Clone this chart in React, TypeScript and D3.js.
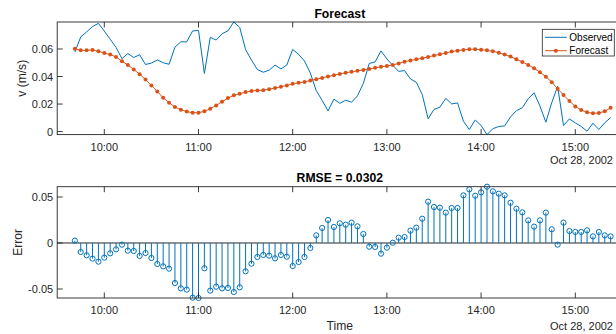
import React from "react";
import * as d3 from "d3";

// Sampling: one value every 3.75 minutes starting 09:41:15 on Oct 28, 2002
const startTime = new Date(2002, 9, 28, 9, 41, 15);
const stepMinutes = 3.75;

// Forecast current speed (m/s)
const forecast = [
  0.0602, 0.059, 0.059, 0.0593, 0.0583, 0.0571, 0.0559, 0.0542, 0.0511, 0.0484,
  0.0451, 0.0417, 0.0378, 0.0335, 0.0292, 0.0246, 0.021, 0.0178, 0.0159, 0.0145,
  0.0137, 0.0137, 0.0147, 0.0166, 0.019, 0.0217, 0.0243, 0.0263, 0.0275, 0.0287,
  0.0294, 0.0299, 0.0301, 0.0308, 0.0316, 0.0325, 0.0335, 0.0347, 0.0354, 0.0361,
  0.0371, 0.038, 0.039, 0.04, 0.041, 0.0419, 0.0427, 0.0434, 0.0441, 0.0448,
  0.0455, 0.0463, 0.047, 0.0477, 0.0484, 0.0495, 0.0508, 0.0516, 0.0525, 0.0533,
  0.0542, 0.0552, 0.0561, 0.0571, 0.0581, 0.0588, 0.0593, 0.0598, 0.0598, 0.0595,
  0.059, 0.0583, 0.0573, 0.0559, 0.0545, 0.0525, 0.0506, 0.0484, 0.046, 0.0431,
  0.0398, 0.0359, 0.0311, 0.0265, 0.0222, 0.0183, 0.0157, 0.014, 0.0133, 0.0135,
  0.0147, 0.0173,
];

// Observed current speed (m/s)
const observed = [
  0.0577, 0.0688, 0.0724, 0.0763, 0.0786, 0.073, 0.0671, 0.0611, 0.0529, 0.0567,
  0.0538, 0.0558, 0.0487, 0.0498, 0.052, 0.05, 0.0489, 0.0613, 0.0652, 0.0652,
  0.0731, 0.0735, 0.0422, 0.0684, 0.0665, 0.071, 0.0732, 0.0796, 0.0757, 0.0595,
  0.0519, 0.0451, 0.0431, 0.0446, 0.0483, 0.0455, 0.0484, 0.0597, 0.0561, 0.0513,
  0.0425, 0.0297, 0.0227, 0.015, 0.0236, 0.0205, 0.0228, 0.0213, 0.026, 0.035,
  0.0495, 0.0506, 0.0586, 0.0528, 0.0481, 0.0437, 0.0443, 0.0382, 0.0358, 0.0269,
  0.0093, 0.0161, 0.0177, 0.0241, 0.0201, 0.0208, 0.0075, 0.0015, 0.0084, 0.0044,
  -0.0022, 0.0021, 0.0037, 0.0041, 0.0107, 0.0152, 0.0173, 0.0238, 0.0282, 0.0185,
  0.0068, 0.021, 0.0329, 0.0044, 0.0092, 0.0063, 0.0037, 0.0002, 0.0061, 0.0015,
  0.0064, 0.0101,
];

// Forecast error (m/s)
const errors = [
  0.0025, -0.0098, -0.0134, -0.017, -0.0203, -0.0159, -0.0112, -0.0069, -0.0018, -0.0083,
  -0.0087, -0.0141, -0.0109, -0.0163, -0.0228, -0.0254, -0.0279, -0.0435, -0.0493, -0.0507,
  -0.0594, -0.0598, -0.0275, -0.0518, -0.0475, -0.0493, -0.0489, -0.0533, -0.0482, -0.0308,
  -0.0225, -0.0152, -0.013, -0.0138, -0.0167, -0.013, -0.0149, -0.025, -0.0207, -0.0152,
  -0.0054, 0.0083, 0.0163, 0.025, 0.0174, 0.0214, 0.0199, 0.0221, 0.0181, 0.0098,
  -0.004, -0.0043, -0.0116, -0.0051, 0.0003, 0.0058, 0.0065, 0.0134, 0.0167, 0.0264,
  0.0449, 0.0391, 0.0384, 0.033, 0.038, 0.038, 0.0518, 0.0583, 0.0514, 0.0551,
  0.0612, 0.0562, 0.0536, 0.0518, 0.0438, 0.0373, 0.0333, 0.0246, 0.0178, 0.0246,
  0.033, 0.0149, -0.0018, 0.0221, 0.013, 0.012, 0.012, 0.0138, 0.0072, 0.012,
  0.0083, 0.0072,
];

const rmseLabel = "RMSE = 0.0302";
const dateLabel = "Oct 28, 2002";
const xTickHours = [10, 11, 12, 13, 14, 15];
const topYTicks = [0, 0.02, 0.04, 0.06];
const bottomYTicks = [-0.05, 0, 0.05];
const legendItems = ["Observed", "Forecast"];

const W = 616;
const H = 334;
const BLUE = "#0072BD";
const ORANGE = "#D95319";
const AXIS = "#262626";
const FONT = "'Liberation Sans', Arial, Helvetica, sans-serif";

const times = forecast.map(
  (_, i) => new Date(startTime.getTime() + i * stepMinutes * 60000)
);

const x = d3
  .scaleTime()
  .domain([new Date(2002, 9, 28, 9, 30), new Date(2002, 9, 28, 15, 30)])
  .range([57.2, 622.4]);

const xTicks = xTickHours.map((h) => new Date(2002, 9, 28, h, 0));
const fmt = d3.timeFormat("%H:%M");

const topBox = { y0: 22, y1: 134.6 };
const botBox = { y0: 186.7, y1: 298 };

const [obsMin, obsMax] = d3.extent([...observed, ...forecast]) as [number, number];
const yTop = d3.scaleLinear().domain([obsMin, obsMax]).range([topBox.y1, topBox.y0]);
const [errMin, errMax] = d3.extent(errors) as [number, number];
const yBot = d3.scaleLinear().domain([errMin, errMax]).range([botBox.y1, botBox.y0]);

const lineGen = (vals: number[]) =>
  d3
    .line<number>()
    .x((_, i) => x(times[i]))
    .y((v) => yTop(v))(vals) as string;

function Frame({
  y0,
  y1,
  yScale,
  yTicks,
}: {
  y0: number;
  y1: number;
  yScale: d3.ScaleLinear<number, number>;
  yTicks: number[];
}) {
  const x0 = x.range()[0];
  const x1 = x.range()[1];
  const tl = 5.5;
  return (
    <g>
      <rect
        x={x0}
        y={y0}
        width={x1 - x0}
        height={y1 - y0}
        fill="none"
        stroke={AXIS}
        strokeWidth={0.9}
      />
      {xTicks.map((t, i) => (
        <g key={i}>
          <line x1={x(t)} x2={x(t)} y1={y1} y2={y1 - tl} stroke={AXIS} strokeWidth={0.9} />
          <line x1={x(t)} x2={x(t)} y1={y0} y2={y0 + tl} stroke={AXIS} strokeWidth={0.9} />
          <text
            x={x(t)}
            y={y1 + 12.3}
            textAnchor="middle"
            dominantBaseline="central"
            fontSize={11}
            fill={AXIS}
          >
            {fmt(t)}
          </text>
        </g>
      ))}
      {yTicks.map((v, i) => (
        <g key={i}>
          <line x1={x0} x2={x0 + tl} y1={yScale(v)} y2={yScale(v)} stroke={AXIS} strokeWidth={0.9} />
          <text
            x={x0 - 4}
            y={yScale(v)}
            textAnchor="end"
            dominantBaseline="central"
            fontSize={11}
            fill={AXIS}
          >
            {String(v)}
          </text>
        </g>
      ))}
    </g>
  );
}

export default function App() {
  const x0 = x.range()[0];
  const x1 = x.range()[1];
  const cx = (x0 + x1) / 2;
  const legX = 542.3;
  const legY = 29.3;
  return (
    <svg
      width={W}
      height={H}
      style={{ position: "absolute", left: 0, top: 0, background: "#fff" }}
      fontFamily={FONT}
    >
      <rect width={W} height={H} fill="#fff" />

      {/* Upper panel: observed vs forecast */}
      <text x={cx} y={14} textAnchor="middle" dominantBaseline="central" fontSize={12.2} fontWeight="bold" fill="#000">
        Forecast
      </text>
      <path d={lineGen(observed)} fill="none" stroke={BLUE} strokeWidth={1} />
      <path d={lineGen(forecast)} fill="none" stroke={ORANGE} strokeWidth={1} />
      {forecast.map((v, i) => (
        <circle key={i} cx={x(times[i])} cy={yTop(v)} r={2} fill={ORANGE} />
      ))}
      <Frame y0={topBox.y0} y1={topBox.y1} yScale={yTop} yTicks={topYTicks} />
      <text x={613} y={160.3} textAnchor="end" dominantBaseline="central" fontSize={11} fill={AXIS}>
        {dateLabel}
      </text>
      <text
        transform={`translate(22,${(topBox.y0 + topBox.y1) / 2}) rotate(-90)`}
        textAnchor="middle"
        dominantBaseline="central"
        fontSize={12.1}
        fill={AXIS}
      >
        v (m/s)
      </text>

      {/* Legend */}
      <rect x={legX} y={legY} width={72} height={26.7} fill="#fff" stroke={AXIS} strokeWidth={0.8} />
      {legendItems.map((name, i) => {
        const ly = legY + 8 + i * 13.4;
        const color = i === 0 ? BLUE : ORANGE;
        return (
          <g key={name}>
            <line x1={legX + 2.7} x2={legX + 24.5} y1={ly} y2={ly} stroke={color} strokeWidth={1} />
            {i === 1 && <circle cx={legX + 13.6} cy={ly} r={2} fill={ORANGE} />}
            <text x={legX + 27} y={ly} dominantBaseline="central" fontSize={10} fill="#000">
              {name}
            </text>
          </g>
        );
      })}

      {/* Lower panel: forecast error stems */}
      <text x={cx} y={178.3} textAnchor="middle" dominantBaseline="central" fontSize={12.2} fontWeight="bold" fill="#000">
        {rmseLabel}
      </text>
      <line x1={x0} x2={x1} y1={yBot(0)} y2={yBot(0)} stroke={AXIS} strokeWidth={1} />
      {errors.map((v, i) => (
        <g key={i}>
          <line
            x1={x(times[i])}
            x2={x(times[i])}
            y1={yBot(0)}
            y2={yBot(v)}
            stroke={BLUE}
            strokeWidth={1}
          />
          <circle cx={x(times[i])} cy={yBot(v)} r={2.6} fill="none" stroke={BLUE} strokeWidth={1} />
        </g>
      ))}
      <Frame y0={botBox.y0} y1={botBox.y1} yScale={yBot} yTicks={bottomYTicks} />
      <text x={613} y={325.7} textAnchor="end" dominantBaseline="central" fontSize={11} fill={AXIS}>
        {dateLabel}
      </text>
      <text x={cx} y={325.7} textAnchor="middle" dominantBaseline="central" fontSize={12.1} fill={AXIS}>
        Time
      </text>
      <text
        transform={`translate(17.5,${(botBox.y0 + botBox.y1) / 2}) rotate(-90)`}
        textAnchor="middle"
        dominantBaseline="central"
        fontSize={12.1}
        fill={AXIS}
      >
        Error
      </text>
    </svg>
  );
}
